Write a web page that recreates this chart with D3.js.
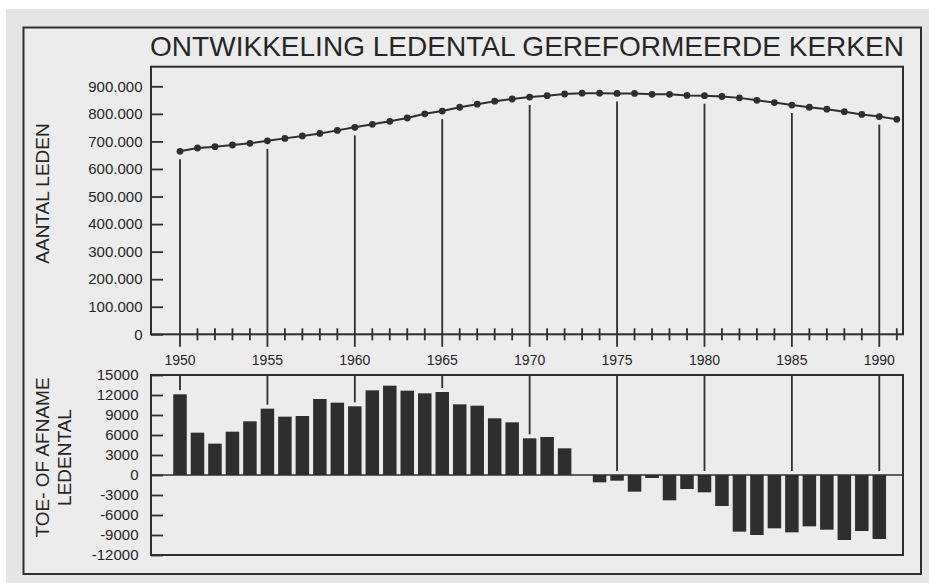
<!DOCTYPE html>
<html>
<head>
<meta charset="utf-8">
<script src="https://cdn.jsdelivr.net/npm/d3@7"></script>
<style>
  html, body { margin: 0; padding: 0; background: #ffffff; }
  svg { display: block; }
  text { font-family: "Liberation Sans", Arial, Helvetica, sans-serif; fill: #262626; }
</style>
</head>
<body>
<script>
// ---------- DATA ----------
const title = "ONTWIKKELING LEDENTAL GEREFORMEERDE KERKEN";
const yTitleTop = "AANTAL LEDEN";
const yTitleBottom = ["TOE- OF AFNAME", "LEDENTAL"];

const years = d3.range(1950, 1992); // 1950..1991
const members = [
  664000, 676000, 681000, 687000, 693000, 702000, 711000, 720000, 729000, 740000,
  751000, 762000, 773000, 785000, 800000, 810000, 824000, 835000, 846000, 854000,
  861000, 866000, 872000, 875000, 875000, 874000, 874000, 871000, 871000, 867000,
  866000, 863000, 858000, 849000, 841000, 832000, 824000, 817000, 808000, 798000,
  790000, 780000
];
const changeYears = d3.range(1950, 1991); // 1950..1990
const changes = [
  12100, 6350, 4700, 6500, 8050, 9950, 8750, 8850, 11400, 10850,
  10300, 12700, 13400, 12650, 12250, 12450, 10600, 10400, 8500, 7900,
  5500, 5700, 4000, 0, -1100, -850, -2500, -450, -3800, -2100,
  -2600, -4650, -8500, -9000, -8000, -8600, -7700, -8200, -9750, -8400,
  -9600
];
const majorYears = [1950, 1955, 1960, 1965, 1970, 1975, 1980, 1985, 1990];
const topTicks = [0, 100000, 200000, 300000, 400000, 500000, 600000, 700000, 800000, 900000];
const bottomTicks = [-12000, -9000, -6000, -3000, 0, 3000, 6000, 9000, 12000, 15000];

// ---------- LAYOUT ----------
const W = 929, H = 583;
const ink = "#2e2e2e";
const svg = d3.select("body").append("svg").attr("width", W).attr("height", H);

svg.append("rect").attr("x", 0).attr("y", 0).attr("width", W).attr("height", H).attr("fill", "#ffffff");
svg.append("rect").attr("x", 6).attr("y", 9).attr("width", W - 6).attr("height", H - 9).attr("fill", "#e5e5e5");
svg.append("rect").attr("x", 23.5).attr("y", 27.5).attr("width", 897.5).attr("height", 546.5)
  .attr("fill", "#ececec").attr("stroke", ink).attr("stroke-width", 2);

const left = 151, right = 903;
const x = d3.scaleLinear().domain([1950, 1990]).range([180, 879.3]);

// ---------- TITLE ----------
svg.append("text").attr("x", 150).attr("y", 55.5)
  .attr("font-size", 28).attr("textLength", 754).attr("lengthAdjust", "spacingAndGlyphs")
  .text(title);

// ---------- TOP PANEL ----------
const topY0 = 334.3, topBoxTop = 66.7;
const y1 = d3.scaleLinear().domain([0, 900000]).range([topY0, 86.3]);
const gTop = svg.append("g");

gTop.append("rect").attr("x", left).attr("y", topBoxTop).attr("width", right - left).attr("height", topY0 - topBoxTop)
  .attr("fill", "none").attr("stroke", ink).attr("stroke-width", 2);

// y axis (inward ticks)
const yAxisTop = d3.axisRight(y1).tickValues(topTicks).tickSize(12).tickFormat(() => "");
gTop.append("g").attr("transform", `translate(${left},0)`).call(yAxisTop)
  .call(g => g.select(".domain").remove())
  .call(g => g.selectAll("line").attr("stroke", ink).attr("stroke-width", 1.8));
gTop.selectAll("text.ylab").data(topTicks).join("text").attr("class", "ylab")
  .attr("x", 142.5).attr("y", d => y1(d) + 5.3).attr("text-anchor", "end").attr("font-size", 15)
  .text(d => d === 0 ? "0" : d3.format(",")(d).replace(/,/g, "."));

// x ticks crossing axis (minor)
gTop.selectAll("line.minor").data(years.filter(d => !majorYears.includes(d))).join("line").attr("class", "minor")
  .attr("x1", d => x(d)).attr("x2", d => x(d)).attr("y1", topY0 - 6).attr("y2", topY0 + 6)
  .attr("stroke", ink).attr("stroke-width", 1.8);
// major year drop lines
gTop.selectAll("line.major").data(majorYears).join("line").attr("class", "major")
  .attr("x1", d => x(d)).attr("x2", d => x(d))
  .attr("y1", d => y1(members[years.indexOf(d)]) + 8).attr("y2", topY0 + 12.5)
  .attr("stroke", ink).attr("stroke-width", 1.8);
gTop.selectAll("text.xlab").data(majorYears).join("text").attr("class", "xlab")
  .attr("x", d => x(d)).attr("y", 365).attr("text-anchor", "middle").attr("font-size", 14)
  .text(d => d);

// line + points
const line = d3.line().x((d, i) => x(years[i])).y(d => y1(d));
gTop.append("path").datum(members).attr("d", line).attr("fill", "none").attr("stroke", ink).attr("stroke-width", 2);
gTop.selectAll("circle").data(members).join("circle")
  .attr("cx", (d, i) => x(years[i])).attr("cy", d => y1(d)).attr("r", 3.4).attr("fill", ink);

// axis title
svg.append("text").attr("transform", `translate(48.8,193.5) rotate(-90)`)
  .attr("text-anchor", "middle").attr("font-size", 19).text(yTitleTop);

// ---------- BOTTOM PANEL ----------
const y2 = d3.scaleLinear().domain([-12000, 15000]).range([555, 375]);
const gBot = svg.append("g");
gBot.append("rect").attr("x", left).attr("y", y2(15000)).attr("width", right - left).attr("height", y2(-12000) - y2(15000))
  .attr("fill", "none").attr("stroke", ink).attr("stroke-width", 2);

const yAxisBot = d3.axisRight(y2).tickValues(bottomTicks).tickSize(12).tickFormat(() => "");
gBot.append("g").attr("transform", `translate(${left},0)`).call(yAxisBot)
  .call(g => g.select(".domain").remove())
  .call(g => g.selectAll("line").attr("stroke", ink).attr("stroke-width", 1.8));
gBot.selectAll("text.ylab").data(bottomTicks).join("text").attr("class", "ylab")
  .attr("x", 138.5).attr("y", d => y2(d) + 5.3).attr("text-anchor", "end").attr("font-size", 15)
  .text(d => d);

// zero line
gBot.append("line").attr("x1", left).attr("x2", right).attr("y1", y2(0)).attr("y2", y2(0))
  .attr("stroke", ink).attr("stroke-width", 1.5);

// bars
const bw = 13.5;
gBot.selectAll("rect.bar").data(changes).join("rect").attr("class", "bar")
  .attr("x", (d, i) => x(changeYears[i]) - bw / 2).attr("width", bw)
  .attr("y", d => y2(Math.max(0, d))).attr("height", d => Math.abs(y2(d) - y2(0)))
  .attr("fill", ink);

// major year lines from top of box
gBot.selectAll("line.major").data(majorYears).join("line").attr("class", "major")
  .attr("x1", d => x(d)).attr("x2", d => x(d)).attr("y1", y2(15000))
  .attr("y2", d => y2(Math.max(0, changes[changeYears.indexOf(d)])) - 4)
  .attr("stroke", ink).attr("stroke-width", 1.8);

// axis title (two lines)
svg.append("text").attr("transform", `translate(48.8,457.5) rotate(-90)`)
  .attr("text-anchor", "middle").attr("font-size", 19).text(yTitleBottom[0]);
svg.append("text").attr("transform", `translate(70.5,457.5) rotate(-90)`)
  .attr("text-anchor", "middle").attr("font-size", 19).text(yTitleBottom[1]);
</script>
</body>
</html>
